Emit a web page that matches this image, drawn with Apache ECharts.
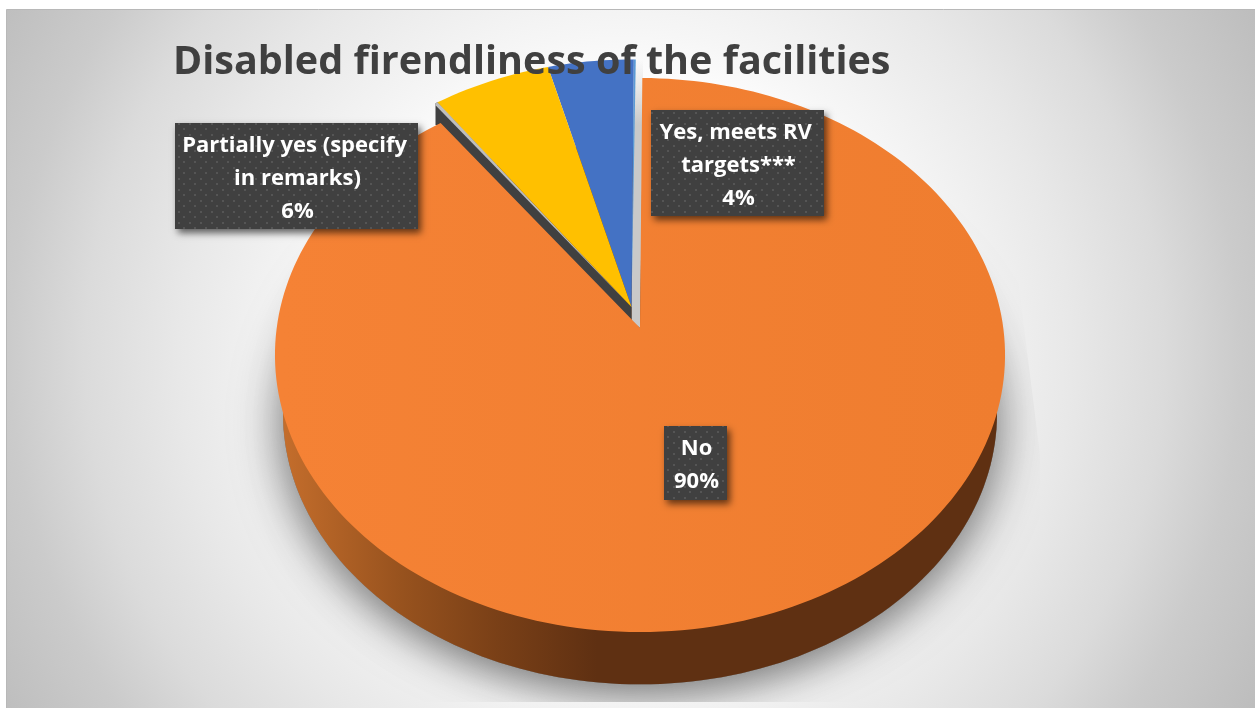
<!DOCTYPE html>
<html>
<head>
<meta charset="utf-8">
<style>html,body{margin:0;padding:0;background:#fff}#c{width:1255px;height:708px}</style>
<script src="https://cdn.jsdelivr.net/npm/echarts@6/dist/echarts.min.js"></script>
</head>
<body>
<div id="c"></div>
<script>
const chartTitle = "Disabled firendliness of the facilities";
const categories = ["No", "Partially yes (specify in remarks)", "Yes, meets RV targets***"];
const values = [90, 5.8, 4.2];

/* layout: perspective projection of the pie disc */
const B = 363.3, A = 274.4, K = 0.0975, START = 0.4, NO_TRIM = 0.7;
const NO_V = [640, 328], REST_V = [631.5, 307], REST_SCALE = 0.99;
const DEPTH_DY = 59, DEPTH_SCALE = 0.978;
const total = values.reduce((a, b) => a + b, 0);
const startOf = i => START + values.slice(0, i).reduce((a, b) => a + b, 0) / total * 360;

function proj(deg, v, s) {
  const t = deg * Math.PI / 180, u = Math.sin(t), w = Math.cos(t), d = 1 + K * w;
  return [v[0] + B * s * u / d, v[1] - A * s * w / d];
}
function arc(a0, a1, v, s) {
  const n = Math.max(2, Math.ceil(Math.abs(a1 - a0) / 1.5)), pts = [];
  for (let i = 0; i <= n; i++) pts.push(proj(a0 + (a1 - a0) * i / n, v, s));
  return pts;
}

const bgStops = [
  {offset: 0, color: '#ffffff'}, {offset: 0.36, color: '#ffffff'}, {offset: 0.45, color: '#f6f6f6'},
  {offset: 0.62, color: '#e8e8e8'}, {offset: 0.75, color: '#dbdbdb'}, {offset: 0.855, color: '#cbcbcb'}, {offset: 1, color: '#bdbdbd'}
];
const bgFill = () => new echarts.graphic.RadialGradient(625, 355, 720, bgStops, true);
const poly = (points, style) => ({type: 'polygon', shape: {points}, style, silent: true});

function renderRim(params, api) {
  const ring = arc(0, 360, [NO_V[0], NO_V[1] + DEPTH_DY], DEPTH_SCALE);
  const side = new echarts.graphic.LinearGradient(280, 0, 1000, 0, [
    {offset: 0, color: '#C56E2C'}, {offset: 0.17, color: '#97521E'},
    {offset: 0.3, color: '#7A4017'}, {offset: 0.44, color: '#5F3012'}, {offset: 1, color: '#5F3012'}
  ], true);
  return {type: 'group', children: [
    poly(ring, {fill: '#888', shadowBlur: 40, shadowColor: 'rgba(0,0,0,0.3)', shadowOffsetX: -10, shadowOffsetY: 10}),
    poly(ring, {fill: '#888', shadowBlur: 40, shadowColor: 'rgba(0,0,0,0.3)', shadowOffsetX: 10, shadowOffsetY: 10}),
    poly([[1015, 255], [1040, 455], [1040, 702], [1255, 702], [1255, 255]], {fill: bgFill()}),
    {type: 'rect', shape: {x: 150, y: 702, width: 1000, height: 6}, style: {fill: bgFill()}, silent: true},
    poly(ring, {fill: side})
  ]};
}

const faceColors = ['#F38033', '#FFC000', '#4472C4'];
function renderSlice(params, api) {
  const i = api.value(0);
  const a0 = startOf(i), a1 = a0 + api.value(1) / total * 360;
  const children = [];
  if (i === 0) {
    const pts = [NO_V].concat(arc(a0, a1 - NO_TRIM, NO_V, 1));
    children.push(poly(pts, {fill: new echarts.graphic.LinearGradient(280, 0, 1000, 0, [
      {offset: 0, color: '#F58235'}, {offset: 1, color: '#EF7D2F'}], true)}));
  } else {
    const tip = proj(a0, REST_V, REST_SCALE), end = proj(a1, REST_V, REST_SCALE);
    if (i === 1) {
      children.push(poly([REST_V, tip, [tip[0] - 2, tip[1] + 1], [tip[0] - 2, tip[1] + 22], [REST_V[0], REST_V[1] + 16]], {fill: '#404040'}));
      children.push(poly([REST_V, tip, [tip[0] - 2, tip[1] + 1], [tip[0] - 2, tip[1] + 3]], {fill: '#bdbdbd'}));
    } else {
      children.push(poly([end, [NO_V[0] + 3, end[1]], [NO_V[0] + 3, 120], NO_V, [REST_V[0], REST_V[1] + 14], REST_V], {
        fill: new echarts.graphic.LinearGradient(0, end[1], 0, 125, [
          {offset: 0, color: 'rgba(201,201,201,0)'}, {offset: 1, color: '#c9c9c9'}], true)
      }));
      children.push(poly([end, [end[0] + 2, end[1]], REST_V], {fill: '#5B9BD5'}));
    }
    children.push(poly([REST_V].concat(arc(a0, a1, REST_V, REST_SCALE)), {fill: faceColors[i]}));
  }
  return {type: 'group', children};
}

/* label boxes: [left, top, width, height], one per category */
const labelBoxes = [[664, 426, 63, 74], [175, 123, 243, 106], [651, 110, 173, 106]];
const tile = document.createElement('canvas');
tile.width = tile.height = 11;
(function () {
  const g = tile.getContext('2d');
  g.fillStyle = '#404040'; g.fillRect(0, 0, 11, 11);
  g.fillStyle = '#555555';
  g.fillRect(2, 2, 2, 2); g.fillRect(7, 7, 2, 2);
})();
function renderLabel(params, api) {
  const i = api.value(0), b = labelBoxes[i];
  const shape = {x: b[0], y: b[1], width: b[2], height: b[3]};
  const pct = Math.round(api.value(1) / total * 100) + '%';
  return {type: 'group', children: [
    {type: 'rect', shape, style: {fill: '#404040', shadowBlur: 7, shadowColor: 'rgba(0,0,0,0.6)', shadowOffsetX: 3, shadowOffsetY: 4}, silent: true},
    {type: 'rect', shape, style: {fill: {image: tile, repeat: 'repeat'}}, silent: true},
    {type: 'text', silent: true, style: {
      x: b[0] + b[2] / 2 + 1, y: b[1] + b[3] / 2 + 2.5,
      text: categories[i] + '\n' + pct, width: b[2] - 6, overflow: 'break',
      fill: '#ffffff', font: 'bold 22px "Open Sans"', lineHeight: 33,
      align: 'center', verticalAlign: 'middle'
    }}
  ]};
}

const rows = categories.map((c, i) => ({name: c, value: [i, values[i]]}));
const chart = echarts.init(document.getElementById('c'), null, {renderer: 'canvas'});
chart.setOption({
  animation: false,
  backgroundColor: '#ffffff',
  title: {
    text: chartTitle, left: 168, top: 38,
    textStyle: {fontFamily: 'Open Sans', fontWeight: 'bold', fontSize: 39.5, color: '#404040'}
  },
  graphic: [{
    type: 'rect', z: 0, silent: true,
    shape: {x: 6.5, y: 9.5, width: 1249, height: 699},
    style: {fill: bgFill(), stroke: '#b8b8b8', lineWidth: 1}
  }],
  series: [
    {type: 'custom', name: 'depth', coordinateSystem: 'none', z: 1, silent: true, renderItem: renderRim, data: [rows[0]]},
    {type: 'custom', name: 'slices', coordinateSystem: 'none', z: 2, silent: true, renderItem: renderSlice, data: rows.slice().reverse()},
    {type: 'custom', name: 'labels', coordinateSystem: 'none', z: 3, silent: true, renderItem: renderLabel, data: rows}
  ]
});
</script>
</body>
</html>
